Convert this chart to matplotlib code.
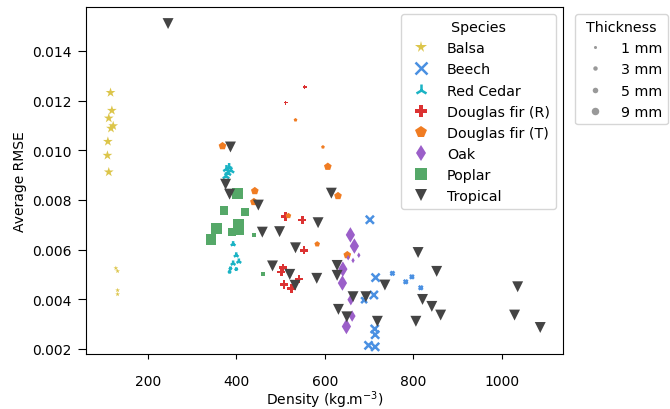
import matplotlib.pyplot as plt
from matplotlib.lines import Line2D
import numpy as np

# density (kg/m3), average RMSE, thickness (mm)
balsa_x = [116, 119, 112, 122, 117, 110, 109, 112, 128, 132, 132, 132]
balsa_y = [0.01232, 0.0116, 0.01129, 0.01098, 0.01088, 0.01035, 0.00979, 0.00912,
           0.00525, 0.00513, 0.00436, 0.00420]
balsa_t = [5, 5, 5, 5, 5, 5, 5, 5, 1, 1, 1, 1]

beech_x = [702, 715, 711, 689, 713, 714, 699, 714, 753, 783, 797, 817]
beech_y = [0.00720, 0.00487, 0.00417, 0.00396, 0.00280, 0.00257, 0.00214, 0.00208,
           0.00504, 0.00470, 0.00490, 0.00446]
beech_t = [5, 5, 5, 3, 5, 5, 5, 5, 1, 1, 1, 1]

cedar_x = [378, 384, 388, 381, 377, 393, 400, 406, 393, 387, 400, 385]
cedar_y = [0.00924, 0.00932, 0.00918, 0.00908, 0.00895, 0.00622, 0.00577, 0.00552,
           0.00544, 0.00524, 0.00521, 0.00510]
cedar_t = [5, 5, 5, 5, 5, 3, 3, 3, 3, 1, 1, 1]

dfr_x = [512, 555, 511, 549, 553, 506, 502, 542, 508, 525]
dfr_y = [0.01192, 0.01255, 0.00733, 0.00719, 0.00597, 0.00527, 0.00509, 0.00481,
         0.00459, 0.00443]
dfr_t = [1, 1, 5, 5, 5, 5, 5, 5, 5, 5]

dft_x = [534, 596, 369, 607, 630, 442, 440, 518, 583, 651]
dft_y = [0.01122, 0.01013, 0.01017, 0.00934, 0.00816, 0.00836, 0.00792, 0.00736,
         0.00622, 0.00578]
dft_t = [1, 1, 5, 5, 5, 5, 5, 3, 3, 5]

oak_x = [658, 667, 677, 664, 653, 641, 640, 659, 662, 649]
oak_y = [0.00659, 0.00614, 0.00577, 0.00556, 0.00567, 0.00521, 0.00465, 0.00398,
         0.00332, 0.00290]
oak_t = [9, 9, 1, 1, 1, 9, 9, 5, 5, 9]

poplar_x = [403, 373, 420, 356, 406, 406, 391, 440, 343, 461]
poplar_y = [0.00827, 0.00757, 0.00750, 0.00685, 0.00702, 0.00682, 0.00670, 0.00660,
            0.00642, 0.00501]
poplar_t = [9, 5, 5, 9, 9, 9, 5, 1, 9, 1]

trop_x = [246, 387, 376, 385, 450, 459, 498, 534, 482, 521, 533, 585, 582, 615, 628,
          628, 664, 693, 631, 650, 719, 736, 811, 853, 821, 842, 862, 806, 1036, 1029,
          1087]
trop_y = [0.01510, 0.01013, 0.00863, 0.00823, 0.00779, 0.00670, 0.00672, 0.00607,
          0.00534, 0.00500, 0.00456, 0.00708, 0.00484, 0.00827, 0.00536, 0.00496,
          0.00410, 0.00410, 0.00359, 0.00329, 0.00311, 0.00457, 0.00588, 0.00512,
          0.00399, 0.00371, 0.00336, 0.00311, 0.00450, 0.00336, 0.00286]
trop_t = [9] * len(trop_x)

species = ['Balsa', 'Beech', 'Red Cedar', 'Douglas fir (R)', 'Douglas fir (T)',
           'Oak', 'Poplar', 'Tropical']
thickness_labels = ['1 mm', '3 mm', '5 mm', '9 mm']

data = [(balsa_x, balsa_y, balsa_t), (beech_x, beech_y, beech_t),
        (cedar_x, cedar_y, cedar_t), (dfr_x, dfr_y, dfr_t), (dft_x, dft_y, dft_t),
        (oak_x, oak_y, oak_t), (poplar_x, poplar_y, poplar_t),
        (trop_x, trop_y, trop_t)]
colors = ['#dcc54a', '#4a90e2', '#1ab3c4', '#dc3232', '#f07c22', '#9b5fc9',
          '#55a868', '#444444']
markers = ['*', 'x', '2', 'P', 'p', 'd', 's', 'v']
size_map = {1: 8, 3: 18, 5: 34, 9: 62}

fig = plt.figure(figsize=(6.7, 4.1), dpi=100)
ax = fig.add_axes([0.128, 0.134, 0.712, 0.846])

for (x, y, t), c, m in zip(data, colors, markers):
    s = np.array([size_map[v] for v in t])
    if m == '*':
        s = s * 1.6
    if m in ('x', '2'):
        ax.scatter(x, y, s=s, c=c, marker=m, linewidths=1.8)
    else:
        ax.scatter(x, y, s=s, c=c, marker=m, linewidths=0)

ax.set_xlim(60, 1138)
ax.set_ylim(0.00179, 0.01576)
ax.set_xticks([200, 400, 600, 800, 1000])
ax.set_yticks([0.002, 0.004, 0.006, 0.008, 0.010, 0.012, 0.014])
ax.tick_params(axis='x', length=3.5, pad=10.5)
ax.tick_params(axis='y', length=6, pad=4.2)
ax.set_xlabel(r'Density (kg.m$^{-3}$)', labelpad=1)
ax.set_ylabel('Average RMSE')

sp_handles = []
for lab, c, m in zip(species, colors, markers):
    mew = 1.8 if m in ('x', '2') else 0
    sp_handles.append(Line2D([], [], color=c, marker=m, linestyle='none',
                             markersize=8.5, markeredgewidth=mew, label=lab))
leg1 = ax.legend(handles=sp_handles, title='Species', loc='upper right',
                 prop={'size': 10.3}, title_fontsize=10.3)
ax.add_artist(leg1)

th_sizes = [2.2, 3.2, 4.0, 5.4]
th_handles = [Line2D([], [], color='#999999', marker='o', linestyle='none',
                     markersize=ms, markeredgewidth=0, label=lab)
              for ms, lab in zip(th_sizes, thickness_labels)]
ax.legend(handles=th_handles, title='Thickness', loc='upper left',
          bbox_to_anchor=(1.01, 1), prop={'size': 10.3}, title_fontsize=10.3)

fig.savefig('out.png', dpi=100)
